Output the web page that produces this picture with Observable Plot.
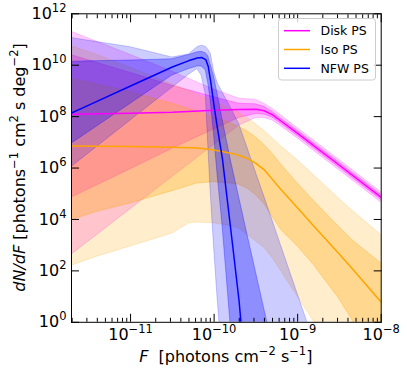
<!DOCTYPE html>
<html><head><meta charset="utf-8">
<script src="https://cdn.jsdelivr.net/npm/d3@7"></script>
<script src="https://cdn.jsdelivr.net/npm/@observablehq/plot@0.6"></script>
<style>
html,body{margin:0;padding:0;background:#fff;}
#chart{width:407px;height:374px;}
</style></head><body><div id="chart"></div>
<script>
// ---- values (log10 of F and of dN/dF) ----
const seriesNames = ["Disk PS", "Iso PS", "NFW PS"];
const seriesColors = ["#ff00ff", "#ffa500", "#0000ff"];

const diskLogF = [-11.707, -11, -10.5, -10, -9.7, -9.5, -9.4, -9.3, -9.2, -9, -8.5, -8];
const diskMed  = [8.09, 8.13, 8.17, 8.25, 8.28, 8.29, 8.23, 8.07, 7.83, 7.35, 6.11, 4.86];
const diskHi95 = [11.3, 10.4, 9.75, 9.05, 8.7, 8.65, 8.5, 8.3, 8.05, 7.55, 6.31, 5.06];
const diskHi68 = [10.39, 9.7, 9.2, 8.75, 8.5, 8.48, 8.38, 8.18, 7.93, 7.45, 6.21, 4.96];
const diskLo68 = [4.85, 5.95, 6.75, 7.5, 7.95, 8.1, 8.08, 7.96, 7.73, 7.25, 6.01, 4.76];
const diskLo95 = [2.63, 4.4, 5.65, 6.9, 7.65, 7.95, 7.95, 7.85, 7.63, 7.15, 5.91, 4.66];

const isoLogF = [-11.707, -11.4, -11, -10.5, -10.3, -10.2, -10, -9.8, -9.7, -9.6, -9.5, -9.4, -9.3, -9.2, -9, -8.8, -8.5, -8.33, -8];
const isoMed  = [6.86, 6.85, 6.84, 6.81, 6.79, 6.78, 6.70, 6.58, 6.49, 6.37, 6.18, 5.93, 5.55, 5.17, 4.45, 3.72, 2.65, 2.02, 0.78];
const isoHi95 = [10.74, 10.4, 9.9, 9.25, 9.0, 8.85, 8.6, 8.3, 8.15, 7.95, 7.7, 7.45, 7.15, 6.85, 6.3, 5.7, 4.8, 4.3, 3.4];
const isoHi68 = [9.48, 9.25, 8.95, 8.5, 8.3, 8.2, 7.95, 7.75, 7.6, 7.42, 7.2, 6.9, 6.55, 6.15, 5.4, 4.7, 3.7, 3.15, 2.3];
const isoLo68 = [3.97, 4.3, 4.62, 5.1, 5.3, 5.4, 5.45, 5.4, 5.35, 5.2, 4.95, 4.6, 4.1, 3.6, 2.95, 2.2, 0.9, 0.0, -1.3];
const isoLo95 = [2.2, 2.55, 2.95, 3.45, 3.85, 3.88, 3.85, 3.75, 3.65, 3.4, 3.15, 2.9, 2.5, 2.0, 1.0, 0.0, -1.2, -1.9, -3.0];

const nfwLogF = [-11.707, -11.5, -11, -10.5, -10.3, -10.2, -10.15, -10.1, -10.07, -10.04, -10.0, -9.96, -9.9, -9.8, -9.7, -9.6, -9.5, -9.4, -9.3, -9.2, -9.0, -8.8];
const nfwMed  = [8.14, 8.45, 9.19, 9.93, 10.18, 10.28, 10.3, 10.22, 9.95, 9.35, 8.4, 7.55, 6.35, 3.6, 0.8, -3, -3, -3, -3, -3, -3, -3];
const nfwHi95 = [11.06, 10.95, 10.7, 10.3, 10.42, 10.7, 10.76, 10.72, 10.6, 10.45, 9.75, 9.32, 8.95, 8.35, 7.71, 6.78, 5.83, 4.9, 3.95, 3.0, 1.1, -0.8];
const nfwHi68 = [10.13, 10.15, 10.18, 10.23, 10.4, 10.5, 10.52, 10.47, 10.35, 10.0, 9.55, 8.9, 7.9, 6.3, 4.85, 3.4, 1.96, 0.52, -0.9, -2.3, -5, -8];
const nfwLo68 = [6.95, 7.4, 8.5, 9.6, 9.85, 9.95, 9.95, 9.8, 9.3, 8.6, 7.3, 5.8, 3.8, -0.2, -3, -5, -5, -5, -5, -5, -5, -5];
const nfwLo95 = [6.04, 6.57, 7.85, 9.12, 9.63, 9.85, 9.6, 8.85, 6.9, 5.0, 2.9, 1.0, -1.5, -4, -5, -5, -5, -5, -5, -5, -5, -5];

const yTickExps = [0, 2, 4, 6, 8, 10, 12];
const xTickExps = [-11, -10, -9, -8];

// ---- build tables ----
function table(logF, med, lo68, hi68, lo95, hi95) {
  return logF.map((f, i) => ({
    F: 10 ** f, med: 10 ** med[i],
    lo68: 10 ** lo68[i], hi68: 10 ** hi68[i],
    lo95: 10 ** lo95[i], hi95: 10 ** hi95[i]
  }));
}
const tables = [
  table(diskLogF, diskMed, diskLo68, diskHi68, diskLo95, diskHi95),
  table(isoLogF, isoMed, isoLo68, isoHi68, isoLo95, isoHi95),
  table(nfwLogF, nfwMed, nfwLo68, nfwHi68, nfwLo95, nfwHi95)
];

const xMin = 10 ** -11.707, xMax = 1e-8;
const yTicks = yTickExps.map(e => 10 ** e);
const xMajor = xTickExps.map(e => 10 ** e);
const xMinor = [];
for (let e = -12; e <= -9; e++) for (let m = 2; m <= 9; m++) {
  const v = m * 10 ** e; if (v >= xMin && v <= xMax) xMinor.push(v);
}
const fmt = d => "10^" + Math.round(Math.log10(d));

const bandMarks = [], lineMarks = [];
tables.forEach((t, k) => {
  const c = seriesColors[k];
  bandMarks.push(Plot.areaY(t, {x: "F", y1: "lo95", y2: "hi95", fill: c, fillOpacity: 0.2, stroke: c, strokeOpacity: 0.2, strokeWidth: 1, clip: true}));
  bandMarks.push(Plot.areaY(t, {x: "F", y1: "lo68", y2: "hi68", fill: c, fillOpacity: 0.3, stroke: c, strokeOpacity: 0.3, strokeWidth: 1, clip: true}));
  lineMarks.push(Plot.line(t, {x: "F", y: "med", stroke: c, strokeWidth: 1.5, clip: true}));
});

const plot = Plot.plot({
  width: 407, height: 374,
  marginLeft: 71, marginRight: 26.3, marginTop: 13.3, marginBottom: 52.2,
  style: {fontFamily: "DejaVu Sans", fontSize: "16px", background: "white", color: "black"},
  x: {type: "log", domain: [xMin, xMax]},
  y: {type: "log", domain: [1, 1e12]},
  marks: [
    ...bandMarks,
    ...lineMarks,
    Plot.frame({stroke: "black", strokeWidth: 1}),
    Plot.axisY(yTicks, {anchor: "left", tickSize: -8, tickPadding: 13, tickFormat: fmt, fontSize: 16, label: null}),
    Plot.axisY(yTicks, {anchor: "right", tickSize: -8, fill: "none", label: null}),
    Plot.axisX(xMajor, {anchor: "bottom", tickSize: -8, tickPadding: 14.8, tickFormat: fmt, fontSize: 16, label: null}),
    Plot.axisX(xMinor, {anchor: "bottom", tickSize: -4, fill: "none", label: null}),
    Plot.axisX(xMajor, {anchor: "top", tickSize: -8, fill: "none", label: null}),
    Plot.axisX(xMinor, {anchor: "top", tickSize: -4, fill: "none", label: null})
  ]
});
document.getElementById("chart").append(plot);

// ---- superscript tick labels ----
const NS = "http://www.w3.org/2000/svg";
plot.querySelectorAll('g[aria-label$="tick label"] text').forEach(t => {
  const s = t.textContent; const parts = s.split("^");
  if (parts.length < 2) return;
  t.textContent = "";
  const a = document.createElementNS(NS, "tspan"); a.textContent = parts[0];
  const b = document.createElementNS(NS, "tspan"); b.textContent = parts[1].replace("-", "\u2212");
  b.setAttribute("dy", "-7"); b.setAttribute("font-size", "11.5");
  t.append(a, b);
});

// ---- axis titles ----
const svg = d3.select(plot);
function richText(g, pieces) {
  let raised = false;
  pieces.forEach(([txt, kind]) => {
    const ts = g.append("tspan").text(txt);
    if (kind === "i") ts.attr("font-style", "italic");
    if (kind === "s") { ts.attr("font-size", 11.5); if (!raised) { ts.attr("dy", -7); raised = true; } }
    else if (raised) { ts.attr("dy", 7); raised = false; }
  });
}
const xl = svg.append("text").attr("x", 225.8).attr("y", 362).attr("text-anchor", "middle")
  .attr("font-size", 16).attr("fill", "black").style("white-space", "pre");
richText(xl, [["F", "i"], ["  [photons cm", "n"], ["\u22122", "s"], [" s", "n"], ["\u22121", "s"], ["]", "n"]]);
const yl = svg.append("text").attr("transform", "translate(25,167.5) rotate(-90)").attr("text-anchor", "middle")
  .attr("font-size", 16).attr("fill", "black").style("white-space", "pre");
richText(yl, [["dN/dF", "i"], [" [photons", "n"], ["\u22121", "s"], [" cm", "n"], ["2", "s"], [" s deg", "n"], ["\u22122", "s"], ["]", "n"]]);

// ---- legend ----
const lg = svg.append("g").attr("font-size", 12.5).attr("text-anchor", "start");
lg.append("rect").attr("x", 278.5).attr("y", 18.5).attr("width", 97).attr("height", 61.5).attr("rx", 3)
  .attr("fill", "white").attr("fill-opacity", 0.8).attr("stroke", "#cccccc");
seriesNames.forEach((n, i) => {
  const y = 30.7 + i * 18.8;
  lg.append("line").attr("x1", 284).attr("x2", 310).attr("y1", y).attr("y2", y)
    .attr("stroke", seriesColors[i]).attr("stroke-width", 1.5);
  lg.append("text").attr("x", 320.5).attr("y", y).attr("dy", "0.36em").attr("text-anchor", "start")
    .attr("fill", "black").text(n);
});
</script></body></html>
